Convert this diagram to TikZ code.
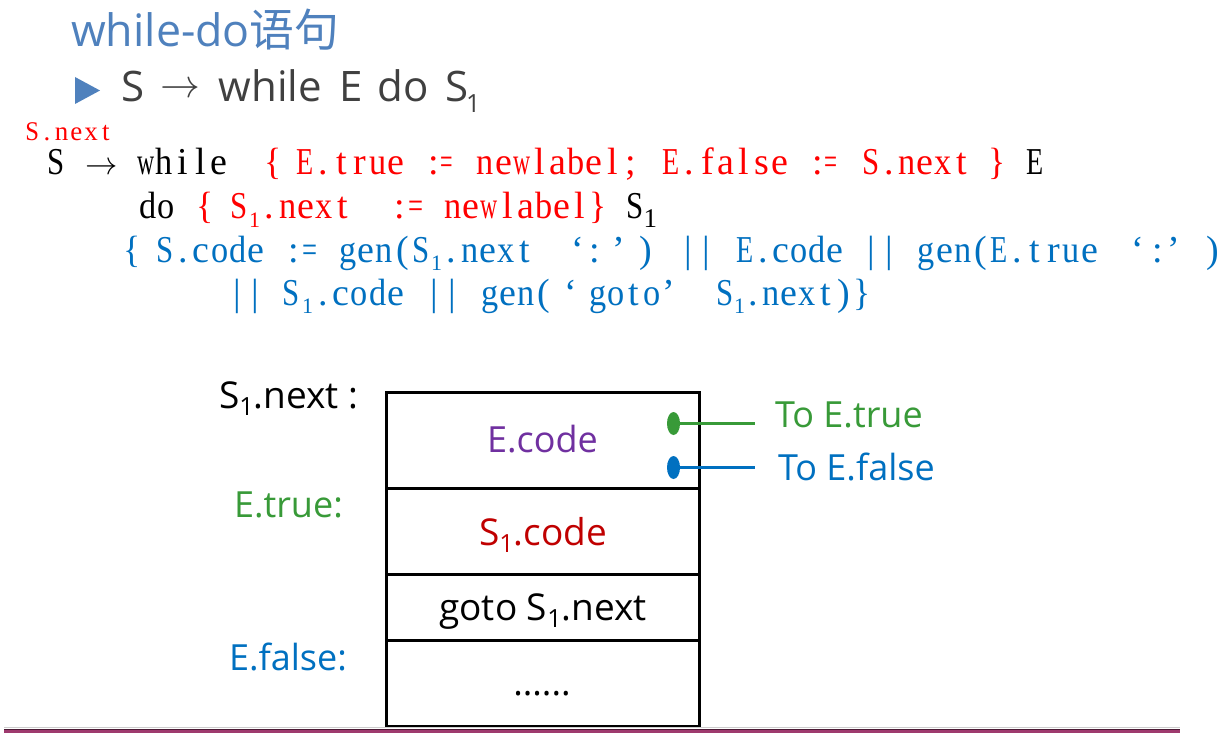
\documentclass[tikz,border=0pt]{standalone}
\usepackage{fontspec}
\usetikzlibrary{shapes.geometric}
\setmainfont{Liberation Serif}
\newfontfamily\osans{Open Sans}
\newfontfamily\cjk{Noto Sans CJK SC}
\newfontfamily\codefont{Liberation Serif}

\definecolor{ttlblue}{HTML}{4F81BD}
\definecolor{bultext}{HTML}{404040}
\definecolor{cred}{HTML}{FF0000}
\definecolor{cblue}{HTML}{0070C0}
\definecolor{tgreen}{HTML}{389A38}
\definecolor{tpurple}{HTML}{7030A0}
\definecolor{tdred}{HTML}{C00000}
\definecolor{barcol}{HTML}{9E3A6E}
\definecolor{bardark}{HTML}{4A1A34}

% fixed-pitch text: every character sits centred in a cell of equal width,
% characters wider than the cell are narrowed to fit
\ExplSyntaxOn
\box_new:N \l__cell_box
\dim_new:N \l__cell_dim
\cs_new_protected:Npn \__cell_put:n #1
  {
    \hbox_set:Nn \l__cell_box {#1}
    \dim_compare:nNnT { \box_wd:N \l__cell_box } > { \l__cell_dim - 1pt }
      {
        \box_scale:Nnn \l__cell_box
          { \fp_eval:n { ( \dim_to_fp:n { \l__cell_dim } - 1 )
                         / \dim_to_fp:n { \box_wd:N \l__cell_box } } }
          { 1 }
      }
    \hbox_to_wd:nn { \l__cell_dim } { \hfil \box_use:N \l__cell_box \hfil }
  }
\NewDocumentCommand\cells{O{18.15pt}m}
  {
    \dim_set:Nn \l__cell_dim {#1}
    \tl_map_inline:nn {#2} { \__cell_put:n {##1} }
  }
\ExplSyntaxOff

% put #2 centred at horizontal offset #1 (pt) from the start of the line
\newcommand\atc[2]{\rlap{\hspace*{#1pt}\makebox[0pt][c]{#2}}}
% lowered index "1" of the code lines: [drop]{size}
\newcommand\csub[2][9]{\raisebox{-#1pt}{\fontsize{#2}{#2}\selectfont 1}}
% lowered index of the sans labels
\newcommand\lsub[1]{\raisebox{-7pt}{\fontsize{25}{25}\selectfont #1}}
% thin arrow scaled to a given factor
\newcommand\thinarrow[1]{\scalebox{#1}{\fontsize{24.88}{26}\selectfont$\rightarrow$}}

\begin{document}
\begin{tikzpicture}[x=1pt, y=-1pt,
  code/.style={anchor=base west, inner sep=0, outer sep=0,
               font=\codefont\fontsize{38}{40}\selectfont},
  lab/.style={inner sep=0, outer sep=0, font=\osans\fontsize{36}{40}\selectfont},
  cell/.style={draw, line width=3pt, minimum width=313pt, inner sep=0, outer sep=0},
  jump/.style={ellipse, minimum width=13pt, minimum height=23pt, inner sep=0}]

\useasboundingbox (0,0) rectangle (1226,733);
\fill[white] (0,0) rectangle (1226,733);

% heading
\node[anchor=base west, inner sep=0, text=ttlblue,
      font=\osans\fontsize{44.7}{48}\selectfont] (title) at (71,47)
  {while-do{\cjk 语句}};

% bullet line
\fill[ttlblue] (75,77) -- (100,90.5) -- (75,104) -- cycle;
\node[anchor=base west, inner sep=0, text=bultext,
      font=\osans\fontsize{42}{46}\selectfont] (rule) at (0,102) {%
\atc{132.5}{S}%
\atc{180}{\raisebox{4pt}{\thinarrow{1.6}}}%
\atc{269.5}{while}%
\atc{350.5}{E}%
\atc{402.5}{do}%
\atc{456}{S}%
\atc{472.5}{\raisebox{-11pt}{\fontsize{25}{25}\selectfont 1}}%
};

% translation scheme
\node[code, text=cred] (snext) at (0,140) {%
\atc{68.5}{\fontsize{27}{28}\selectfont\cells[14.7pt]{S.next}}%
};
\node[code] (lineA) at (0,175) {%
\atc{55.5}{\cells{S}}%
\atc{101}{\raisebox{1pt}{\thinarrow{1.3}}}%
\atc{182}{\cells{while}}%
\atc{272.5}{\color{cred}\cells{\{}}%
\atc{350}{\color{cred}\cells{E.true}}%
\atc{440}{\color{cred}\cells[13.5pt]{:=}}%
\atc{557.5}{\color{cred}\cells{newlabel;}}%
\atc{725}{\color{cred}\cells{E.false}}%
\atc{824}{\color{cred}\cells[14pt]{:=}}%
\atc{915.5}{\color{cred}\cells{S.next}}%
\atc{997}{\color{cred}\cells{\}}}%
\atc{1035}{\cells{E}}%
};
\node[code] (lineB) at (0,218) {%
\atc{156.5}{\cells{do}}%
\atc{205}{\color{cred}\cells{\{}}%
\atc{238.5}{\color{cred}\cells{S}}%
\atc{254}{\color{cred}\csub{22}}%
\atc{305.5}{\color{cred}\cells{.next}}%
\atc{407.5}{\color{cred}\cells[16pt]{:=}}%
\atc{525}{\color{cred}\cells{newlabel\}}}%
\atc{635}{\cells{S}}%
\atc{650}{\csub{27}}%
};
\node[code, text=cblue] (lineC) at (0,262) {%
\atc{132}{\cells{\{}}%
\atc{210}{\cells{S.code}}%
\atc{301}{\cells[16pt]{:=}}%
\atc{384}{\cells{gen(S}}%
\atc{436}{\csub[8]{22}}%
\atc{487.5}{\cells{.next}}%
\atc{577.5}{‘}\atc{594.5}{:}\atc{618}{’}%
\atc{645}{)}%
\atc{697}{\cells{||}}%
\atc{789.5}{\cells{E.code}}%
\atc{880}{\cells{||}}%
\atc{1007.5}{\cells{gen(E.true}}%
\atc{1137}{‘}\atc{1157}{:}\atc{1173}{’}%
\atc{1212.5}{)}%
};
\node[code, text=cblue] (lineD) at (0,305) {%
\atc{246}{\cells{||}}%
\atc{290.5}{\cells{S}}%
\atc{307}{\csub[8]{22}}%
\atc{359}{\cells{.code}}%
\atc{442.5}{\cells{||}}%
\atc{516.5}{\cells{gen(}}%
\atc{570}{‘}\atc{624.5}{\cells{goto}}\atc{668}{’}%
\atc{725}{\cells{S}}%
\atc{739}{\csub[8]{22}}%
\atc{807}{\cells{.next)\}}}%
};

% code layout: stacked blocks
\node[cell, minimum height=96pt]   (ecode) at (543,440)    {};
\node[cell, minimum height=86.5pt] (scode) at (543,531.25) {};
\node[cell, minimum height=66pt]   (jmp)   at (543,607.5)  {};
\node[cell, minimum height=86pt]   (rest)  at (543,683.5)  {};

\node[lab, anchor=base, text=tpurple] (tecode) at (542.5,452) {E.code};
\node[lab, anchor=base, text=tdred, font=\osans\fontsize{37}{40}\selectfont]
  (tscode) at (543,545) {S\lsub{1}.code};
\node[lab, anchor=base, font=\osans\fontsize{37}{40}\selectfont]
  (tjmp) at (543,620) {goto S\lsub{1}.next};
\node[lab, anchor=base] (trest) at (542,695) {......};

% labels on the left
\node[lab, anchor=base west, font=\osans\fontsize{37}{40}\selectfont]
  (lnext) at (219,408) {S\lsub{1}.next :};
\node[lab, anchor=base west, text=tgreen] (ltrue) at (234,517) {E.true:};
\node[lab, anchor=base west, text=cblue] (lfalse) at (229,670) {E.false:};

% jump exits of E.code
\node[jump, fill=tgreen] (dtrue) at (673.5,423.5) {};
\node[jump, fill=cblue] (dfalse) at (673.5,467.5) {};
\coordinate (etrue) at (755,423.5);
\coordinate (efalse) at (755,467.5);
\draw[tgreen, line width=2.5pt] (dtrue.east) -- (etrue);
\draw[cblue, line width=2.5pt] (dfalse.east) -- (efalse);
\node[lab, anchor=base west, text=tgreen] (ttrue) at (775,427) {To E.true};
\node[lab, anchor=base west, text=cblue] (tfalse) at (778,480) {To E.false};

% bottom rule
\draw[gray!40, line width=1pt] (4,727.8) -- (1180,727.8);
\fill[barcol] (4,729) rectangle (1180,734);
\draw[bardark, line width=0.8pt] (4,729) -- (1180,729);
\end{tikzpicture}
\end{document}
